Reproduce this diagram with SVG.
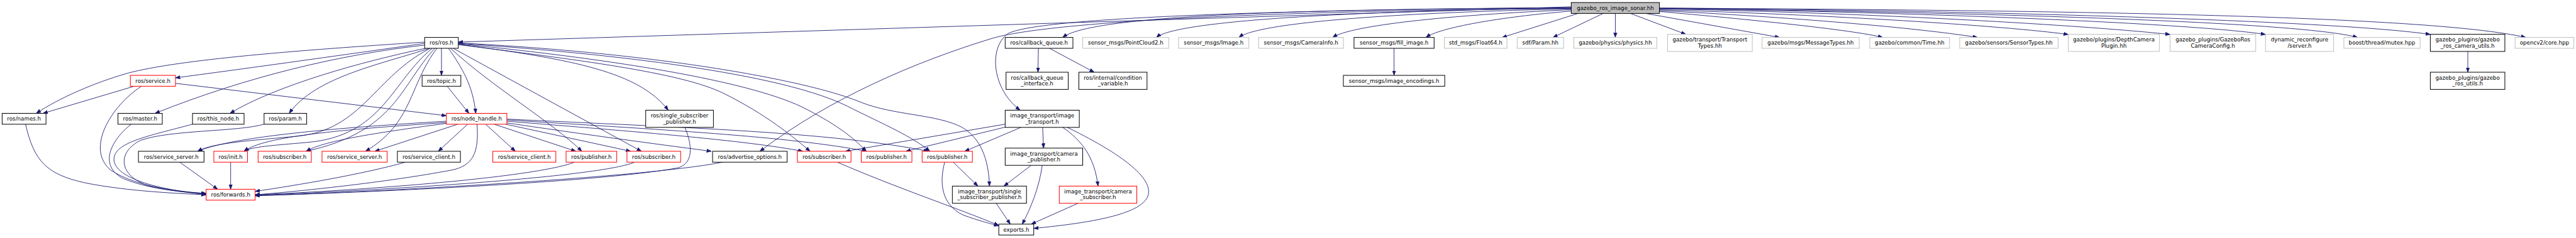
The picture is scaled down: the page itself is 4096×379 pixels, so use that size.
<svg xmlns="http://www.w3.org/2000/svg" width="4096" height="379" viewBox="0 0 4096 379">
<style>
.n rect{fill:#fff;stroke-width:1.5}
.b rect{stroke:#000}
.g rect{stroke:#bfbfbf}
.r rect{stroke:#ff0000}
.root rect{fill:#bfbfbf;stroke:#000}
text{font-family:"DejaVu Sans","Liberation Sans",sans-serif;font-size:12.9px;fill:#000;text-anchor:middle}
#edges path{fill:none;stroke:#191970;stroke-width:1.3;marker-end:url(#a)}
</style>
<defs>
<marker id="a" markerUnits="userSpaceOnUse" markerWidth="12" markerHeight="9" viewBox="0 0 12 9" refX="11" refY="4.5" orient="auto"><path d="M0,0.5 L11,4.5 L0,8.5 z" fill="#191970" stroke="#191970" stroke-width="1"/></marker>
</defs>
<rect width="4096" height="379" fill="#fff"/>
<g transform="scale(0.67725)">
<g id="edges">
<path d="M3689,16 L1076,99"/>
<path d="M3689,18 C3000,22 2560,38 2495,88"/>
<path d="M3689,19 C3150,26 2760,50 2715,88"/>
<path d="M3689,21 C3250,30 2950,55 2909,88"/>
<path d="M3689,23 C3400,35 3170,60 3129,88"/>
<path d="M3689,26 C3520,40 3380,65 3348,88"/>
<path d="M3705,31.6 L3527,88"/>
<path d="M3689,18 C2900,24 2420,45 2365,80 C2320,115 2330,210 2395,259"/>
<path d="M3689,20 C2900,26 2450,55 2330,90 C2150,145 1950,230 1784,355.7"/>
<path d="M3764,31.6 L3646,88"/>
<path d="M3792.5,31.6 L3792.5,88"/>
<path d="M3828,31.6 L3958,80.6"/>
<path d="M3864,31.6 L4178,88"/>
<path d="M3896,27 C4100,45 4350,70 4420,88"/>
<path d="M3896,25 C4200,40 4500,65 4643,88"/>
<path d="M3896,23 C4300,35 4700,60 4856,81"/>
<path d="M3896,21 C4400,30 4900,60 5095,81"/>
<path d="M3896,20 C4500,28 5150,55 5319,81"/>
<path d="M3896,20 C4600,28 5400,50 5535,88"/>
<path d="M3896,19 C4700,25 5500,50 5706,81"/>
<path d="M3896,19 C4800,24 5700,35 5930,88"/>
<path d="M1036.5,113.6 L1036.5,177.2"/>
<path d="M1053,113.6 C1085,160 1110,200 1117,266.5"/>
<path d="M1058,113.6 C1150,200 1300,290 1366,355.7"/>
<path d="M1064,113.6 L1506,355.7"/>
<path d="M1076,104 C1350,140 1500,170 1569,259.1"/>
<path d="M1076,105 C1350,140 1600,170 1700,220 C1800,270 1860,320 1902,355.7"/>
<path d="M1076,103 C1450,140 1750,190 1880,250 C1960,290 2000,320 2034,355.7"/>
<path d="M1076,102 C1500,130 1850,180 1990,250 C2080,295 2140,320 2183,355.7"/>
<path d="M1076,101 C1550,125 1900,190 2020,240 C2100,272 2200,268 2260,300 C2310,330 2322,390 2323,437.6"/>
<path d="M997,99 C700,118 420,140 300,172 C220,195 140,230 85,266.5"/>
<path d="M997,102 C800,130 550,165 412,183"/>
<path d="M997,106 C800,128 580,180 364,266.5"/>
<path d="M999,113.6 C850,145 650,200 540,266.5"/>
<path d="M1008,113.6 C900,150 740,180 679,266.5"/>
<path d="M1010,113.6 C880,180 850,305 700,320 C600,330 500,335 464,355.7"/>
<path d="M1015,113.6 C920,190 900,320 720,335 C640,342 590,345 573,355.7"/>
<path d="M1021,113.6 C940,200 930,310 718,355.7"/>
<path d="M1026,113.6 C960,200 970,290 858,355.7"/>
<path d="M1050,202.8 L1101,266.5"/>
<path d="M315,202.8 L101,266.5"/>
<path d="M332,202.8 C260,250 200,350 260,400 C320,440 420,450 484,455"/>
<path d="M412,196 L1048,272"/>
<path d="M60,292 C80,380 110,410 200,430 C300,450 420,455 484,458"/>
<path d="M308,292 C260,330 230,390 290,420 C350,445 430,452 484,455"/>
<path d="M452,292 C350,320 260,335 268,380 C280,430 420,452 484,456"/>
<path d="M620,292 C560,310 400,305 330,330 C270,360 280,420 360,440 C410,450 460,455 484,457"/>
<path d="M422,381.3 L511,445"/>
<path d="M541.5,381.3 L541.5,445"/>
<path d="M1048,285 C800,300 550,320 464,355.7"/>
<path d="M1048,288 C800,305 620,320 573,355.7"/>
<path d="M1048,290 C900,310 760,330 719,355.7"/>
<path d="M1075,292 L880,355.7"/>
<path d="M1098,292 L1029,355.7"/>
<path d="M1120,292 C1125,360 1110,390 1060,400 C900,430 700,450 599,458"/>
<path d="M1140,292 L1210,355.7"/>
<path d="M1160,292 L1352,355.7"/>
<path d="M1187,292 L1481,355.7"/>
<path d="M1190,289 C1400,320 1550,340 1670,355.7"/>
<path d="M1190,285 C1500,310 1750,330 1885,355.7"/>
<path d="M1190,282 C1550,305 1850,320 2035,355.7"/>
<path d="M1190,280 C1600,300 1950,310 2180,355.7"/>
<path d="M1608,299.5 C1625,340 1630,385 1590,395 C1400,430 800,455 599,460"/>
<path d="M1349,381.3 C1250,420 800,450 599,458"/>
<path d="M1490,381.3 C1400,420 800,452 599,459"/>
<path d="M1697,381.3 C1500,420 800,455 599,460"/>
<path d="M952,381.3 C850,410 700,435 599,450"/>
<path d="M1966,381.3 C2100,440 2250,490 2345,530"/>
<path d="M2218,381.3 C2205,430 2210,480 2260,505 C2300,520 2330,527 2345,531"/>
<path d="M2238,381.3 L2296,437.6"/>
<path d="M2448,299.5 L2450,348.3"/>
<path d="M2495,299.5 C2540,330 2570,370 2578,437.6"/>
<path d="M2506,299.5 C2650,370 2720,430 2690,470 C2660,510 2530,527 2427,537"/>
<path d="M2397,299.5 L2265,355.7"/>
<path d="M2360,299 L2127,355.7"/>
<path d="M2360,292 L1985,355.7"/>
<path d="M2421,388.7 L2357,437.6"/>
<path d="M2447,388.7 C2440,440 2420,490 2400,527"/>
<path d="M2339,478 L2372,527"/>
<path d="M2531,478 L2421,527"/>
<path d="M2438,113.6 L2437,169.8"/>
<path d="M2464,113.6 L2569,169.8"/>
<path d="M3273,113.6 L3273,177.2"/>
<path d="M5794,121 L5794,169.8"/>
</g>
<g id="n_root" class="n root"><rect x="3689" y="6" width="207" height="25.6"/><text x="3792.5" y="23.3">gazebo_ros_image_sonar.hh</text></g>
<g id="n_ros" class="n b"><rect x="997" y="88" width="79" height="25.6"/><text x="1036.5" y="105.3">ros/ros.h</text></g>
<g id="n_cbq" class="n b"><rect x="2360" y="88" width="159" height="25.6"/><text x="2439.5" y="105.3">ros/callback_queue.h</text></g>
<g id="n_pc2" class="n g"><rect x="2542" y="88" width="202" height="25.6"/><text x="2643" y="105.3">sensor_msgs/PointCloud2.h</text></g>
<g id="n_img" class="n g"><rect x="2767" y="88" width="165" height="25.6"/><text x="2849.5" y="105.3">sensor_msgs/Image.h</text></g>
<g id="n_ci" class="n g"><rect x="2955" y="88" width="199" height="25.6"/><text x="3054.5" y="105.3">sensor_msgs/CameraInfo.h</text></g>
<g id="n_fill" class="n b"><rect x="3179" y="88" width="188" height="25.6"/><text x="3273" y="105.3">sensor_msgs/fill_image.h</text></g>
<g id="n_f64" class="n g"><rect x="3391" y="88" width="147" height="25.6"/><text x="3464.5" y="105.3">std_msgs/Float64.h</text></g>
<g id="n_sdf" class="n g"><rect x="3562" y="88" width="109" height="25.6"/><text x="3616.5" y="105.3">sdf/Param.hh</text></g>
<g id="n_phys" class="n g"><rect x="3695" y="88" width="195" height="25.6"/><text x="3792.5" y="105.3">gazebo/physics/physics.hh</text></g>
<g id="n_tt" class="n g"><rect x="3915" y="80.6" width="199" height="40.4"/><text x="4014.5" y="97.8">gazebo/transport/Transport</text><text x="4014.5" y="111.8">Types.hh</text></g>
<g id="n_mt" class="n g"><rect x="4137" y="88" width="228" height="25.6"/><text x="4251" y="105.3">gazebo/msgs/MessageTypes.hh</text></g>
<g id="n_time" class="n g"><rect x="4390" y="88" width="187" height="25.6"/><text x="4483.5" y="105.3">gazebo/common/Time.hh</text></g>
<g id="n_st" class="n g"><rect x="4601" y="88" width="231" height="25.6"/><text x="4716.5" y="105.3">gazebo/sensors/SensorTypes.hh</text></g>
<g id="n_dc" class="n g"><rect x="4856" y="80.6" width="214" height="40.4"/><text x="4963" y="97.8">gazebo/plugins/DepthCamera</text><text x="4963" y="111.8">Plugin.hh</text></g>
<g id="n_cfg" class="n g"><rect x="5095" y="80.6" width="201" height="40.4"/><text x="5195.5" y="97.8">gazebo_plugins/GazeboRos</text><text x="5195.5" y="111.8">CameraConfig.h</text></g>
<g id="n_dyn" class="n g"><rect x="5319" y="80.6" width="160" height="40.4"/><text x="5399" y="97.8">dynamic_reconfigure</text><text x="5399" y="111.8">/server.h</text></g>
<g id="n_mutex" class="n g"><rect x="5503" y="88" width="179" height="25.6"/><text x="5592.5" y="105.3">boost/thread/mutex.hpp</text></g>
<g id="n_cu" class="n b"><rect x="5706" y="80.6" width="175" height="40.4"/><text x="5793.5" y="97.8">gazebo_plugins/gazebo</text><text x="5793.5" y="111.8">_ros_camera_utils.h</text></g>
<g id="n_cv" class="n g"><rect x="5905" y="88" width="138" height="25.6"/><text x="5974" y="105.3">opencv2/core.hpp</text></g>
<g id="n_srv" class="n r"><rect x="306" y="177.2" width="106" height="25.6"/><text x="359" y="194.5">ros/service.h</text></g>
<g id="n_topic" class="n b"><rect x="991" y="177.2" width="91" height="25.6"/><text x="1036.5" y="194.5">ros/topic.h</text></g>
<g id="n_cqi" class="n b"><rect x="2362" y="169.8" width="146" height="40.4"/><text x="2435" y="187">ros/callback_queue</text><text x="2435" y="201">_interface.h</text></g>
<g id="n_cv2" class="n b"><rect x="2533" y="169.8" width="160" height="40.4"/><text x="2613" y="187">ros/internal/condition</text><text x="2613" y="201">_variable.h</text></g>
<g id="n_enc" class="n b"><rect x="3154" y="177.2" width="238" height="25.6"/><text x="3273" y="194.5">sensor_msgs/image_encodings.h</text></g>
<g id="n_gru" class="n b"><rect x="5706" y="169.8" width="175" height="40.4"/><text x="5793.5" y="187">gazebo_plugins/gazebo</text><text x="5793.5" y="201">_ros_utils.h</text></g>
<g id="n_names" class="n b"><rect x="5" y="266.5" width="103" height="25.6"/><text x="56.5" y="283.8">ros/names.h</text></g>
<g id="n_master" class="n b"><rect x="277" y="266.5" width="104" height="25.6"/><text x="329" y="283.8">ros/master.h</text></g>
<g id="n_this" class="n b"><rect x="452" y="266.5" width="121" height="25.6"/><text x="512.5" y="283.8">ros/this_node.h</text></g>
<g id="n_param" class="n b"><rect x="620" y="266.5" width="100" height="25.6"/><text x="670" y="283.8">ros/param.h</text></g>
<g id="n_nh" class="n r"><rect x="1048" y="266.5" width="142" height="25.6"/><text x="1119" y="283.8">ros/node_handle.h</text></g>
<g id="n_ssp" class="n b"><rect x="1516" y="259.1" width="159" height="40.4"/><text x="1595.5" y="276.3">ros/single_subscriber</text><text x="1595.5" y="290.3">_publisher.h</text></g>
<g id="n_it" class="n b"><rect x="2360" y="259.1" width="174" height="40.4"/><text x="2447" y="276.3">image_transport/image</text><text x="2447" y="290.3">_transport.h</text></g>
<g id="n_ssb" class="n b"><rect x="325" y="355.7" width="154" height="25.6"/><text x="402" y="373">ros/service_server.h</text></g>
<g id="n_init" class="n r"><rect x="502" y="355.7" width="79" height="25.6"/><text x="541.5" y="373">ros/init.h</text></g>
<g id="n_sub1" class="n r"><rect x="606" y="355.7" width="125" height="25.6"/><text x="668.5" y="373">ros/subscriber.h</text></g>
<g id="n_ssr" class="n r"><rect x="756" y="355.7" width="153" height="25.6"/><text x="832.5" y="373">ros/service_server.h</text></g>
<g id="n_scb" class="n b"><rect x="933" y="355.7" width="148" height="25.6"/><text x="1007" y="373">ros/service_client.h</text></g>
<g id="n_scr" class="n r"><rect x="1157" y="355.7" width="148" height="25.6"/><text x="1231" y="373">ros/service_client.h</text></g>
<g id="n_pub1" class="n r"><rect x="1329" y="355.7" width="119" height="25.6"/><text x="1388.5" y="373">ros/publisher.h</text></g>
<g id="n_sub2" class="n r"><rect x="1472" y="355.7" width="126" height="25.6"/><text x="1535" y="373">ros/subscriber.h</text></g>
<g id="n_adv" class="n b"><rect x="1673" y="355.7" width="175" height="25.6"/><text x="1760.5" y="373">ros/advertise_options.h</text></g>
<g id="n_sub3" class="n r"><rect x="1872" y="355.7" width="126" height="25.6"/><text x="1935" y="373">ros/subscriber.h</text></g>
<g id="n_pub2" class="n r"><rect x="2022" y="355.7" width="119" height="25.6"/><text x="2081.5" y="373">ros/publisher.h</text></g>
<g id="n_pub3" class="n r"><rect x="2165" y="355.7" width="118" height="25.6"/><text x="2224" y="373">ros/publisher.h</text></g>
<g id="n_cp" class="n b"><rect x="2360" y="348.3" width="182" height="40.4"/><text x="2451" y="365.5">image_transport/camera</text><text x="2451" y="379.5">_publisher.h</text></g>
<g id="n_fwd" class="n r"><rect x="484" y="445" width="115" height="25.6"/><text x="541.5" y="462.3">ros/forwards.h</text></g>
<g id="n_itssp" class="n b"><rect x="2236" y="437.6" width="174" height="40.4"/><text x="2323" y="454.8">image_transport/single</text><text x="2323" y="468.8">_subscriber_publisher.h</text></g>
<g id="n_cs" class="n r"><rect x="2487" y="437.6" width="182" height="40.4"/><text x="2578" y="454.8">image_transport/camera</text><text x="2578" y="468.8">_subscriber.h</text></g>
<g id="n_exp" class="n b"><rect x="2345" y="527" width="82" height="25.6"/><text x="2386" y="544.3">exports.h</text></g>
</g>
</svg>
